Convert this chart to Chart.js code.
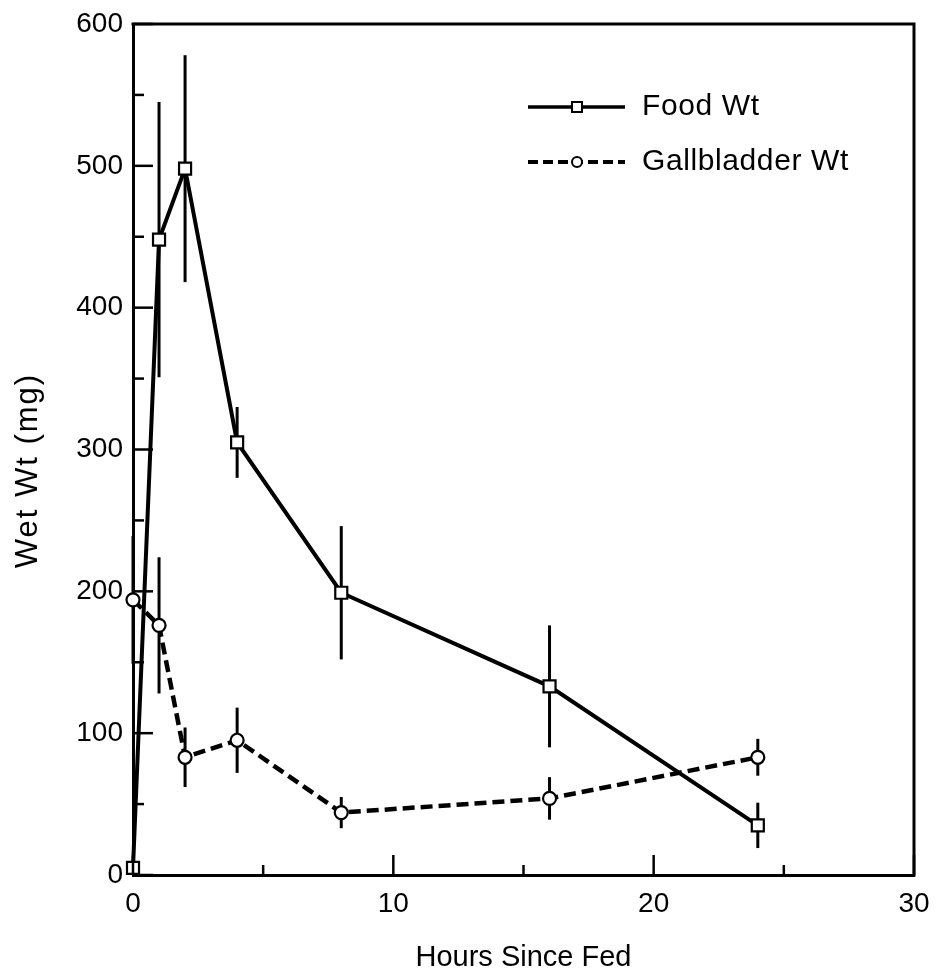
<!DOCTYPE html>
<html>
<head>
<meta charset="utf-8">
<script src="https://cdn.jsdelivr.net/npm/chart.js@4.4.1/dist/chart.umd.min.js"></script>
<style>
  html, body { margin: 0; padding: 0; background: #ffffff; }
  #wrap { width: 937px; height: 976px; }
</style>
</head>
<body>
<div id="wrap"><canvas id="c" width="937" height="976"></canvas></div>
<script>
// ---- Data ----
const hours = [0, 1, 2, 4, 8, 16, 24];
const foodWt = [5, 448, 498, 305, 199, 133, 35];
const foodErr = [0, 97, 80, 25, 47, 43, 16];
const gallWt = [194, 176, 83, 95, 44, 54, 83];
const gallErr = [45, 48, 21, 23, 11, 15, 13];
const seriesLabels = ['Food Wt', 'Gallbladder Wt'];
const xTicks = [0, 10, 20, 30];
const xMinorTicks = [5, 15, 25];
const yTicks = [0, 100, 200, 300, 400, 500, 600];
const yMinorTicks = [50, 150, 250, 350, 450, 550];
const xTitle = 'Hours Since Fed';
const yTitle = 'Wet Wt (mg)';

const FONT = "'Liberation Sans', Arial, Helvetica, sans-serif";

function toPoints(xs, ys) { return xs.map((x, i) => ({ x: x, y: ys[i] })); }

const errorBarPlugin = {
  id: 'errorBars',
  beforeDatasetsDraw(chart) {
    const ctx = chart.ctx;
    const xs = chart.scales.x, ys = chart.scales.y;
    const errs = [foodErr, gallErr];
    ctx.save();
    ctx.strokeStyle = '#000';
    ctx.lineWidth = 3;
    ctx.lineCap = 'butt';
    chart.data.datasets.forEach((ds, di) => {
      ds.data.forEach((p, i) => {
        const e = errs[di][i];
        if (!e) return;
        const px = xs.getPixelForValue(p.x);
        ctx.beginPath();
        ctx.moveTo(px, ys.getPixelForValue(p.y - e));
        ctx.lineTo(px, ys.getPixelForValue(p.y + e));
        ctx.stroke();
      });
    });
    ctx.restore();
  }
};

const frameTicksPlugin = {
  id: 'frameTicks',
  afterDraw(chart) {
    const ctx = chart.ctx;
    const a = chart.chartArea;
    const xs = chart.scales.x, ys = chart.scales.y;
    ctx.save();
    ctx.strokeStyle = '#000';
    ctx.lineCap = 'square';
    ctx.lineWidth = 3;
    ctx.beginPath();
    ctx.moveTo(a.left, a.top);
    ctx.lineTo(a.right, a.top);
    ctx.lineTo(a.right, a.bottom);
    ctx.stroke();
    ctx.lineWidth = 2.5;
    ctx.lineCap = 'butt';
    const yTick = (v, len) => {
      const py = ys.getPixelForValue(v);
      ctx.beginPath(); ctx.moveTo(a.left, py); ctx.lineTo(a.left + len, py); ctx.stroke();
    };
    const xTick = (v, len) => {
      const px = xs.getPixelForValue(v);
      ctx.beginPath(); ctx.moveTo(px, a.bottom); ctx.lineTo(px, a.bottom - len); ctx.stroke();
    };
    yTicks.forEach(v => yTick(v, 20));
    yMinorTicks.forEach(v => yTick(v, 11));
    xTicks.forEach(v => xTick(v, 20));
    xMinorTicks.forEach(v => xTick(v, 10));

    // y-axis title (drawn slightly below centre, as in the reference)
    ctx.fillStyle = '#000';
    ctx.font = '31px ' + FONT;
    if ('letterSpacing' in ctx) ctx.letterSpacing = '2px';
    ctx.textAlign = 'center';
    ctx.textBaseline = 'middle';
    ctx.translate(28, (a.top + a.bottom) / 2 + 21);
    ctx.rotate(-Math.PI / 2);
    ctx.fillText(yTitle, 0, 0);
    ctx.restore();
  }
};

const legendPlugin = {
  id: 'customLegend',
  afterDraw(chart) {
    const ctx = chart.ctx;
    const a = chart.chartArea;
    const rows = [
      { y: a.top + 83, dash: [], width: 3.5, style: 'rect' },
      { y: a.top + 138, dash: [10, 5], width: 4, style: 'circle' }
    ];
    const x0 = a.left + 395, x1 = a.left + 492, xm = a.left + 444, xt = a.left + 509;
    ctx.save();
    chart.data.datasets.forEach((ds, i) => {
      const r = rows[i];
      ctx.strokeStyle = '#000';
      ctx.lineWidth = r.width;
      ctx.setLineDash(r.dash);
      ctx.beginPath(); ctx.moveTo(x0, r.y); ctx.lineTo(x1, r.y); ctx.stroke();
      ctx.setLineDash([]);
      ctx.lineWidth = 2;
      ctx.fillStyle = '#fff';
      ctx.beginPath();
      if (r.style === 'rect') { ctx.rect(xm - 5, r.y - 5, 10, 10); }
      else { ctx.arc(xm, r.y, 5, 0, Math.PI * 2); }
      ctx.fill(); ctx.stroke();
      ctx.fillStyle = '#000';
      ctx.font = '30px ' + FONT;
      if ('letterSpacing' in ctx) ctx.letterSpacing = '0.6px';
      ctx.textBaseline = 'middle';
      ctx.textAlign = 'left';
      ctx.fillText(ds.label, xt, r.y);
    });
    ctx.restore();
  }
};

new Chart(document.getElementById('c'), {
  type: 'scatter',
  data: {
    datasets: [
      {
        label: seriesLabels[0],
        data: toPoints(hours, foodWt),
        showLine: true,
        borderColor: '#000',
        borderWidth: 4,
        pointStyle: 'rect',
        pointRadius: 8.5,
        pointBorderWidth: 2.2,
        pointBackgroundColor: '#fff',
        pointBorderColor: '#000',
        clip: false
      },
      {
        label: seriesLabels[1],
        data: toPoints(hours, gallWt),
        showLine: true,
        borderColor: '#000',
        borderWidth: 4.5,
        borderDash: [12, 6],
        pointStyle: 'circle',
        pointRadius: 6.5,
        pointBorderWidth: 2.2,
        pointBackgroundColor: '#fff',
        pointBorderColor: '#000',
        clip: false
      }
    ]
  },
  options: {
    responsive: false,
    animation: false,
    devicePixelRatio: 1,
    layout: { padding: { left: 0, right: 23, top: 24, bottom: 0 } },
    plugins: { legend: { display: false }, tooltip: { enabled: false } },
    scales: {
      x: {
        type: 'linear', position: 'bottom', min: 0, max: 30,
        afterBuildTicks(s) { s.ticks = xTicks.map(v => ({ value: v })); },
        afterFit(s) { s.height = 101; s.paddingLeft = 0; s.paddingRight = 0; },
        grid: { display: false, drawTicks: false },
        border: { display: true, color: '#000', width: 3 },
        ticks: { color: '#000', font: { family: FONT, size: 28 }, padding: 12, maxRotation: 0 },
        title: { display: true, text: xTitle, color: '#000', font: { family: FONT, size: 29 }, padding: { top: 0, bottom: 1 } }
      },
      y: {
        type: 'linear', position: 'left', min: 0, max: 600,
        afterBuildTicks(s) { s.ticks = yTicks.map(v => ({ value: v })); },
        afterFit(s) { s.width = 133; s.paddingTop = 0; s.paddingBottom = 0; },
        grid: { display: false, drawTicks: false },
        border: { display: true, color: '#000', width: 3 },
        ticks: { color: '#000', font: { family: FONT, size: 28 }, padding: 10 },
        title: { display: false }
      }
    }
  },
  plugins: [errorBarPlugin, frameTicksPlugin, legendPlugin]
});
</script>
</body>
</html>
